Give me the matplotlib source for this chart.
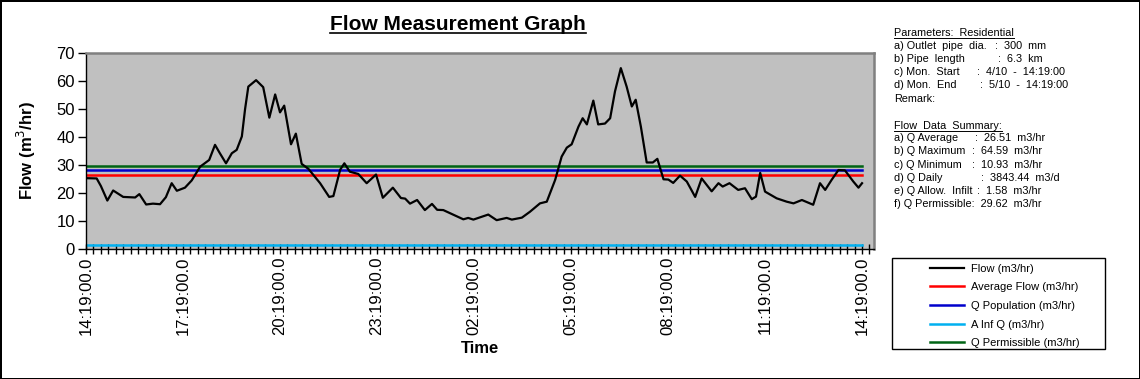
import numpy as np
import matplotlib
matplotlib.use('Agg')
import matplotlib.pyplot as plt
from matplotlib.lines import Line2D
from matplotlib.patches import Rectangle
from matplotlib import rcParams

rcParams['font.family'] = ['Liberation Sans', 'DejaVu Sans']
rcParams['font.size'] = 11

# data: hours since 14:19:00 and flow (m3/hr)
hours = [0.00, 0.33, 0.46, 0.66, 0.84, 1.15, 1.52, 1.65, 1.86, 2.07, 2.29, 2.47, 2.65, 2.81,
         3.06, 3.27, 3.53, 3.81, 3.99, 4.14, 4.33, 4.51, 4.66, 4.82, 4.92, 5.02, 5.26, 5.48,
         5.67, 5.85, 6.00, 6.13, 6.34, 6.49, 6.67, 6.88, 7.24, 7.52, 7.65, 7.86, 7.99, 8.16,
         8.42, 8.68, 8.97, 9.18, 9.49, 9.74, 9.87, 10.02, 10.24, 10.48, 10.70, 10.86, 11.05,
         11.35, 11.67, 11.82, 11.98, 12.44, 12.70, 13.01, 13.17, 13.48, 13.73, 14.04, 14.25,
         14.51, 14.71, 14.87, 15.02, 15.23, 15.36, 15.49, 15.69, 15.84, 16.05, 16.21, 16.36,
         16.54, 16.72, 16.88, 17.00, 17.16, 17.34, 17.53, 17.67, 17.86, 18.01, 18.16, 18.37,
         18.58, 18.84, 19.04, 19.35, 19.56, 19.69, 19.90, 20.17, 20.38, 20.59, 20.72, 20.85,
         21.00, 21.36, 21.67, 21.88, 22.14, 22.49, 22.70, 22.86, 23.06, 23.27, 23.47, 23.73,
         23.89, 24.00]
flow = [25.3, 25.2, 22.5, 17.3, 20.9, 18.6, 18.4, 19.6, 15.9, 16.2, 16.0, 18.5, 23.5, 20.8,
        21.9, 24.5, 29.4, 31.8, 37.2, 34.2, 30.6, 34.2, 35.4, 40.2, 50.0, 58.0, 60.3, 57.8,
        46.9, 55.2, 48.8, 51.2, 37.4, 41.2, 30.4, 28.6, 23.5, 18.6, 18.9, 28.3, 30.6, 27.6,
        26.8, 23.5, 26.6, 18.3, 21.9, 18.2, 18.0, 16.2, 17.5, 13.9, 16.1, 14.0, 13.9,
        12.3, 10.6, 11.1, 10.5, 12.3, 10.3, 11.1, 10.5, 11.2, 13.3, 16.3, 16.9,
        24.7, 33.0, 36.2, 37.4, 43.7, 46.7, 44.5, 53.0, 44.5, 44.8, 46.7, 56.3,
        64.6, 58.0, 50.9, 53.3, 43.7, 30.9, 30.9, 32.2, 24.9, 24.8, 23.6, 26.2,
        24.1, 18.6, 25.2, 20.6, 23.5, 22.3, 23.5, 21.1, 21.7, 17.8, 18.7, 27.2,
        20.5, 18.1, 16.9, 16.3, 17.5, 15.8, 23.5, 21.1, 24.7, 28.2, 28.1, 24.1,
        21.9, 23.5]

q_average = 26.51
q_population = 28.04
a_inf_q = 1.58
q_permissible = 29.62

tick_labels = ['14:19:00.0', '17:19:00.0', '20:19:00.0', '23:19:00.0', '02:19:00.0',
               '05:19:00.0', '08:19:00.0', '11:19:00.0', '14:19:00.0']

W, H = 1140, 379
fig = plt.figure(figsize=(W / 100, H / 100), dpi=100)
fig.patch.set_edgecolor('black')
fig.patch.set_linewidth(2)

ax = fig.add_axes([86 / W, 1 - 249 / H, (874 - 86) / W, (249 - 53) / H])
ax.set_facecolor('#C0C0C0')

t_span = [hours[0], hours[-1]]
ax.plot(t_span, [a_inf_q] * 2, color='#00B0F0', lw=1.8, label='A Inf Q (m3/hr)')
ax.plot(t_span, [q_average] * 2, color='#FF0000', lw=1.8, label='Average Flow (m3/hr)')
ax.plot(t_span, [q_population] * 2, color='#0000CC', lw=1.8, label='Q Population (m3/hr)')
ax.plot(t_span, [q_permissible] * 2, color='#006414', lw=1.8, label='Q Permissible (m3/hr)')
ax.plot(hours, flow, color='black', lw=1.6, solid_joinstyle='round', label='Flow (m3/hr)')

ax.set_xlim(0, 24.37)
ax.set_ylim(0, 70)
ax.set_yticks(range(0, 71, 10))
ax.set_xticks(np.arange(0, 24.01, 3))
ax.set_xticklabels(tick_labels, rotation=90, fontsize=12)
ax.set_xticks(np.arange(0, 24.37, 3 / 13), minor=True)
ax.tick_params(axis='x', which='both', direction='inout', length=7, width=1, pad=2)
ax.tick_params(axis='y', direction='out', length=6, width=1, labelsize=12, pad=2)

for s in ['top', 'right']:
    ax.spines[s].set_color('#808080')
    ax.spines[s].set_linewidth(1.8)
ax.spines['left'].set_linewidth(1)
ax.spines['bottom'].set_linewidth(1)

ax.set_ylabel('Flow (m$^3$/hr)', fontsize=12, fontweight='bold', labelpad=13)
ax.set_xlabel('Time', fontsize=12, fontweight='bold', labelpad=4)

title = fig.text(458 / W, 1 - 24 / H, 'Flow Measurement Graph', ha='center', va='center',
                 fontsize=15, fontweight='bold')

# legend
handles, labels = ax.get_legend_handles_labels()
order = [4, 1, 2, 0, 3]
fig.legend([handles[i] for i in order], [labels[i] for i in order], loc='upper left',
           bbox_to_anchor=(924 / W, 1 - 258 / H), frameon=False, borderpad=0,
           handlelength=3.1, handletextpad=0.6, labelspacing=0.78, fontsize=8)
fig.add_artist(Rectangle((892 / W, 1 - 349 / H), (1105 - 892) / W, (349 - 258) / H,
                         transform=fig.transFigure, fill=False, ec='black', lw=1))

# parameter text block
info_rows = [
    (33, 'Parameters:  Residential', '', 0, True),
    (46, 'a) Outlet  pipe  dia.', ':  300  mm', 995, False),
    (59, 'b) Pipe  length', ':  6.3  km', 998, False),
    (72, 'c) Mon.  Start', ':  4/10  -  14:19:00', 977, False),
    (85, 'd) Mon.  End', ':  5/10  -  14:19:00', 980, False),
    (99, 'Remark:', '', 0, False),
    (126, 'Flow  Data  Summary:', '', 0, True),
    (138, 'a) Q Average', ':  26.51  m3/hr', 975, False),
    (151, 'b) Q Maximum', ':  64.59  m3/hr', 972, False),
    (165, 'c) Q Minimum', ':  10.93  m3/hr', 972, False),
    (178, 'd) Q Daily', ':  3843.44  m3/d', 981, False),
    (191, 'e) Q Allow.  Infilt', ':  1.58  m3/hr', 977, False),
    (204, 'f) Q Permissible:  29.62  m3/hr', '', 0, False),
]
underlined = [title]
for y, left, right, rx, ul in info_rows:
    t = fig.text(894 / W, 1 - y / H, left, ha='left', va='center', fontsize=7.8)
    if ul:
        underlined.append(t)
    if right:
        fig.text(rx / W, 1 - y / H, right, ha='left', va='center', fontsize=7.8)

renderer = fig.canvas.get_renderer()
for t in underlined:
    bb = t.get_window_extent(renderer)
    lw = 1.2 if t is title else 0.7
    fig.add_artist(Line2D([bb.x0 / W, bb.x1 / W], [(bb.y0 + 0.5) / H] * 2,
                          transform=fig.transFigure, color='black', lw=lw))

fig.savefig('out.png', dpi=100)
